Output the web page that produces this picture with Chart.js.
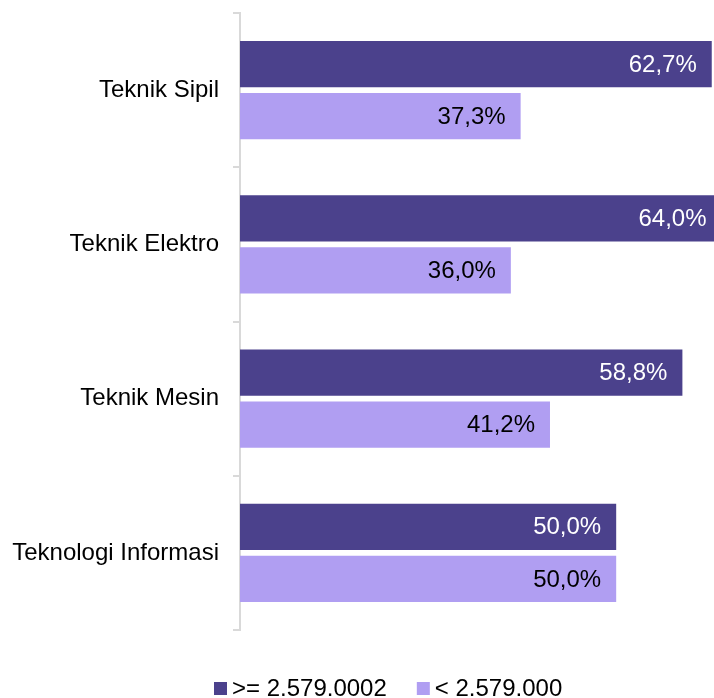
<!DOCTYPE html>
<html>
<head>
<meta charset="utf-8">
<script src="https://cdn.jsdelivr.net/npm/chart.js@4"></script>
<style>
  html, body { margin: 0; padding: 0; background: #fff; }
</style>
</head>
<body>
<canvas id="chart" width="714" height="698"></canvas>
<script>
// Chart data
const categories = ['Teknik Sipil', 'Teknik Elektro', 'Teknik Mesin', 'Teknologi Informasi'];
const seriesNames = ['>= 2.579.0002', '< 2.579.000'];
const highValues = [62.7, 64.0, 58.8, 50.0];
const lowValues = [37.3, 36.0, 41.2, 50.0];

const seriesColors = ['#4b418c', '#b09ef2'];
const labelColors = ['#ffffff', '#000000'];
const fontFamily = '"Liberation Sans", Arial, sans-serif';

// Value labels drawn inside the end of each bar
const valueLabels = {
    id: 'valueLabels',
    afterDatasetsDraw(chart) {
        const ctx = chart.ctx;
        ctx.save();
        ctx.font = '24px ' + fontFamily;
        ctx.textAlign = 'right';
        ctx.textBaseline = 'middle';
        chart.data.datasets.forEach((ds, i) => {
            chart.getDatasetMeta(i).data.forEach((bar, j) => {
                ctx.fillStyle = labelColors[i];
                const text = ds.data[j].toFixed(1).replace('.', ',') + '%';
                ctx.fillText(text, bar.x - 15, bar.y + 1);
            });
        });
        ctx.restore();
    }
};

// Compact legend at the bottom (square marker close to the text)
const bottomLegend = {
    id: 'bottomLegend',
    afterDraw(chart) {
        const ctx = chart.ctx;
        ctx.save();
        ctx.font = '24px ' + fontFamily;
        ctx.textAlign = 'left';
        ctx.textBaseline = 'middle';
        let x = 214;
        const y = 688;
        chart.data.datasets.forEach((ds, i) => {
            ctx.fillStyle = ds.backgroundColor;
            ctx.fillRect(x, y - 6, 13, 13);
            ctx.fillStyle = '#000';
            ctx.fillText(ds.label, x + 18, y + 1);
            x += 18 + ctx.measureText(ds.label).width + 30;
        });
        ctx.restore();
    }
};

new Chart(document.getElementById('chart'), {
    type: 'bar',
    data: {
        labels: categories,
        datasets: [{
            label: seriesNames[0],
            data: highValues,
            backgroundColor: seriesColors[0],
            borderWidth: 0,
            barPercentage: 0.885,
            categoryPercentage: 0.675
        }, {
            label: seriesNames[1],
            data: lowValues,
            backgroundColor: seriesColors[1],
            borderWidth: 0,
            barPercentage: 0.885,
            categoryPercentage: 0.675
        }]
    },
    options: {
        indexAxis: 'y',
        responsive: false,
        animation: false,
        layout: {
            padding: { top: 13, bottom: 68, left: 0, right: 0 }
        },
        scales: {
            x: {
                display: false,
                min: 0,
                max: 63
            },
            y: {
                offset: true,
                grid: {
                    offset: true,
                    drawOnChartArea: false,
                    drawTicks: true,
                    tickLength: 7,
                    color: '#d9d9d9',
                    lineWidth: 2
                },
                border: {
                    display: true,
                    color: '#d9d9d9',
                    width: 2
                },
                ticks: {
                    color: '#000',
                    padding: 14,
                    font: { family: fontFamily, size: 24 }
                },
                afterFit: function(scale) {
                    scale.width = 240;
                    // labels sit mid-band, so no extra room above/below is needed
                    scale.paddingTop = 0;
                    scale.paddingBottom = 0;
                }
            }
        },
        plugins: {
            legend: { display: false },
            tooltip: { enabled: false }
        }
    },
    plugins: [valueLabels, bottomLegend]
});
</script>
</body>
</html>
